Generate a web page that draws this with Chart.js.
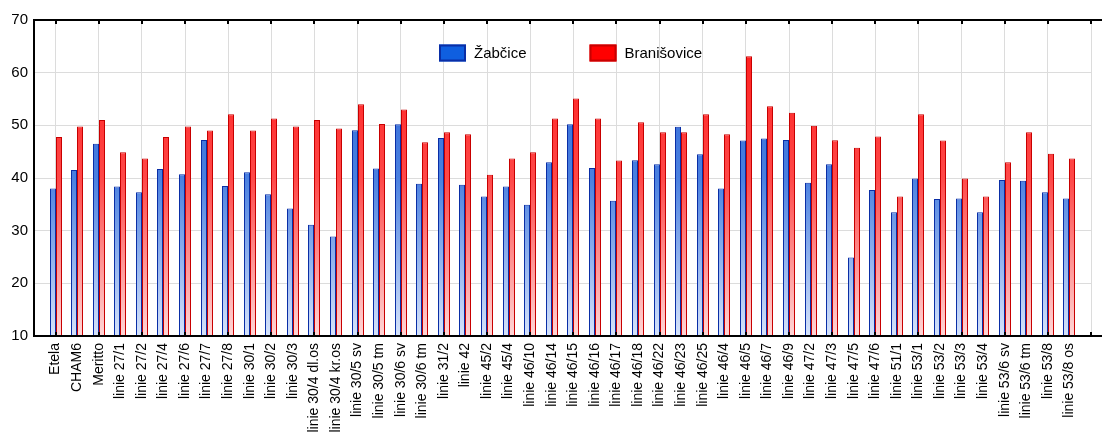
<!DOCTYPE html>
<html>
<head>
<meta charset="utf-8">
<script src="https://cdn.jsdelivr.net/npm/chart.js@4.4.1/dist/chart.umd.min.js"></script>
<style>
    html, body { margin: 0; padding: 0; background: #fff; }
</style>
</head>
<body>
<canvas id="chart" width="1102" height="437"></canvas>
<script>
const categories = [
    'Etela', 'CHAM6', 'Meritto', 'linie 27/1', 'linie 27/2', 'linie 27/4', 'linie 27/6', 'linie 27/7',
    'linie 27/8', 'linie 30/1', 'linie 30/2', 'linie 30/3', 'linie 30/4 dl.os', 'linie 30/4 kr.os',
    'linie 30/5 sv', 'linie 30/5 tm', 'linie 30/6 sv', 'linie 30/6 tm', 'linie 31/2', 'linie 42',
    'linie 45/2', 'linie 45/4', 'linie 46/10', 'linie 46/14', 'linie 46/15', 'linie 46/16', 'linie 46/17',
    'linie 46/18', 'linie 46/22', 'linie 46/23', 'linie 46/25', 'linie 46/4', 'linie 46/5', 'linie 46/7',
    'linie 46/9', 'linie 47/2', 'linie 47/3', 'linie 47/5', 'linie 47/6', 'linie 51/1', 'linie 53/1',
    'linie 53/2', 'linie 53/3', 'linie 53/4', 'linie 53/6 sv', 'linie 53/6 tm', 'linie 53/8', 'linie 53/8 os'
];

const zabcice = [
    38.0, 41.5, 46.5, 38.4, 37.3, 41.7, 40.7, 47.2, 38.5, 41.1, 36.9, 34.2, 31.1, 28.9, 49.05, 41.8,
    50.2, 38.9, 47.6, 38.7, 36.5, 38.4, 34.9, 43.0, 50.2, 41.9, 35.7, 43.35, 42.6, 49.75, 44.5, 38.0,
    47.1, 47.5, 47.2, 39.1, 42.6, 24.9, 37.7, 33.5, 39.9, 36.0, 36.1, 33.5, 39.6, 39.5, 37.3, 36.1
];

const branisovice = [
    47.8, 49.8, 51.0, 44.9, 43.7, 47.8, 49.8, 49.0, 52.1, 49.0, 51.3, 49.8, 51.0, 49.4, 54.0, 50.25,
    53.0, 46.8, 48.7, 48.3, 40.6, 43.7, 44.9, 51.3, 55.1, 51.3, 43.3, 50.6, 48.7, 48.7, 52.1, 48.3,
    63.1, 53.6, 52.4, 49.9, 47.15, 45.75, 47.9, 36.5, 52.1, 47.1, 39.9, 36.5, 43.0, 48.7, 44.6, 43.7
];

const seriesNames = ['Žabčice', 'Branišovice'];
const yMin = 10;
const yMax = 70;
const yStep = 10;

const FONT = '"Liberation Sans", Arial, sans-serif';

// empty slot on each side, like the original axis
const labels = ['', ...categories, ''];
const pad = (arr) => [null, ...arr, null];

// vertical fade of the bars, dark at top, pale at the base
function fade(top, mid, bottom) {
    return (context) => {
        const area = context.chart.chartArea;
        if (!area) return mid;
        const g = context.chart.ctx.createLinearGradient(0, area.top, 0, area.bottom);
        g.addColorStop(0, top);
        g.addColorStop(0.5, mid);
        g.addColorStop(1, bottom);
        return g;
    };
}

// snap bar edges to whole pixels so the thin bars stay crisp
const snapPlugin = {
    id: 'snap',
    afterDatasetsUpdate(chart) {
        chart.data.datasets.forEach((ds, i) => {
            chart.getDatasetMeta(i).data.forEach((el) => {
                el.x = Math.round(el.x - el.width / 2) + el.width / 2;
            });
        });
    }
};

// black frame lines top/bottom (run to the right edge) + small inner tick marks
const framePlugin = {
    id: 'frame',
    afterDatasetsDraw(chart) {
        const {ctx, chartArea} = chart;
        const x = chart.scales.x;
        ctx.save();
        ctx.strokeStyle = '#000';
        ctx.lineWidth = 2;
        ctx.beginPath();
        ctx.moveTo(chartArea.left, chartArea.top);
        ctx.lineTo(chart.width, chartArea.top);
        ctx.moveTo(chartArea.left, chartArea.bottom);
        ctx.lineTo(chart.width, chartArea.bottom);
        ctx.stroke();

        ctx.beginPath();
        x.ticks.forEach((t, i) => {
            if (i % 2 === 0) return;
            const px = Math.round(x.getPixelForTick(i));
            ctx.moveTo(px, chartArea.top);
            ctx.lineTo(px, chartArea.top + 4);
            ctx.moveTo(px, chartArea.bottom);
            ctx.lineTo(px, chartArea.bottom - 4);
        });
        ctx.stroke();
        ctx.restore();
    }
};

// legend sits inside the plot, near the top
const legendPlugin = {
    id: 'innerLegend',
    afterDraw(chart) {
        const {ctx, chartArea} = chart;
        ctx.save();
        ctx.font = '15px ' + FONT;
        ctx.textBaseline = 'middle';
        ctx.textAlign = 'left';
        let x = chartArea.left + 405;
        const y = chartArea.top + 32.5;
        chart.data.datasets.forEach((ds) => {
            ctx.fillStyle = ds.legendFill;
            ctx.fillRect(x, y - 8, 27, 17);
            ctx.strokeStyle = ds.borderColor;
            ctx.lineWidth = 2;
            ctx.strokeRect(x + 1, y - 7, 25, 15);
            ctx.fillStyle = '#000';
            ctx.fillText(ds.label, x + 35, y + 1);
            x += 35 + ctx.measureText(ds.label).width + 63;
        });
        ctx.restore();
    }
};

new Chart(document.getElementById('chart'), {
    type: 'bar',
    data: {
        labels: labels,
        datasets: [{
            label: seriesNames[0],
            data: pad(zabcice),
            backgroundColor: fade('#2860d4', '#4a80e0', '#d6e3fa'),
            borderColor: '#0a2ea6',
            legendFill: '#0f5fe0',
            borderWidth: 1,
            inflateAmount: 0,
            barThickness: 6,
            categoryPercentage: 0.79
        }, {
            label: seriesNames[1],
            data: pad(branisovice),
            backgroundColor: fade('#ff1616', '#ff4848', '#ffd6d6'),
            borderColor: '#c80000',
            legendFill: '#ff0000',
            borderWidth: 1,
            inflateAmount: 0,
            barThickness: 6,
            categoryPercentage: 0.79
        }]
    },
    options: {
        responsive: false,
        animation: false,
        devicePixelRatio: 1,
        layout: { padding: { top: 20, right: 11, left: 0, bottom: 0 } },
        plugins: {
            legend: { display: false },
            tooltip: { enabled: false }
        },
        scales: {
            x: {
                offset: false,
                grid: {
                    offset: false,
                    color: (c) => (c.index % 2 === 1 ? '#dcdcdc' : 'rgba(0,0,0,0)'),
                    drawTicks: false
                },
                border: { display: false },
                ticks: {
                    autoSkip: false,
                    minRotation: 90,
                    maxRotation: 90,
                    padding: 7,
                    color: '#000',
                    font: { family: FONT, size: 14 }
                },
                afterFit: (scale) => {
                    scale.height = 101;
                    scale.paddingLeft = 0;
                    scale.paddingRight = 0;
                }
            },
            y: {
                min: yMin,
                max: yMax,
                ticks: {
                    stepSize: yStep,
                    padding: 6,
                    color: '#000',
                    font: { family: FONT, size: 15 }
                },
                grid: { color: '#dcdcdc', drawTicks: false },
                border: { color: '#000', width: 2 },
                afterFit: (scale) => { scale.width = 34; }
            }
        }
    },
    plugins: [snapPlugin, framePlugin, legendPlugin]
});
</script>
</body>
</html>
